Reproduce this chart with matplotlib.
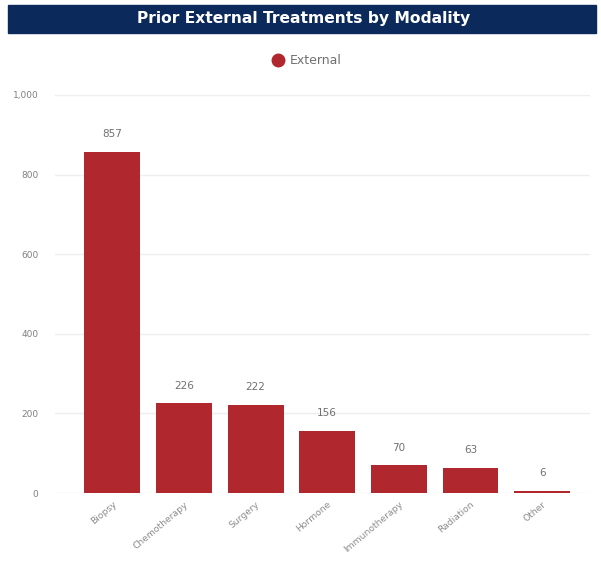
import matplotlib
matplotlib.use('Agg')
import matplotlib.pyplot as plt
from matplotlib.lines import Line2D
from matplotlib.patches import Rectangle

categories = ['Biopsy', 'Chemotherapy', 'Surgery', 'Hormone',
              'Immunotherapy', 'Radiation', 'Other']
external = [857, 226, 222, 156, 70, 63, 6]
yticks = [0, 200, 400, 600, 800, 1000]

bar_color = '#B0272D'
navy = '#0B2A5B'

fig = plt.figure(figsize=(6.01, 5.61), dpi=100)
ax = fig.add_axes([0.0915, 0.1212, 0.8905, 0.7095])

x = range(len(categories))
bars = ax.bar(x, external, width=0.78, color=bar_color, zorder=3)
for b, v in zip(bars, external):
    ax.annotate(str(v), (b.get_x() + b.get_width() / 2, v),
                xytext=(0, 9), textcoords='offset points',
                ha='center', va='bottom', fontsize=7.5, color='#707070')

ax.set_ylim(0, 1000)
ax.set_xlim(-0.8, 6.67)
ax.set_yticks(yticks)
ax.set_yticklabels([f'{t:,}' for t in yticks], fontsize=6.5, color='#808080')
ax.set_xticks(list(x))
ax.set_xticklabels(categories, rotation=40, ha='right', rotation_mode='anchor',
                   fontsize=6.6, color='#8c8c8c')
ax.tick_params(length=0, pad=12)
ax.tick_params(axis='x', pad=5)
ax.grid(axis='y', color='#eeeeee', linewidth=1, zorder=0)
for s in ax.spines.values():
    s.set_visible(False)

# title bar
fig.patches.append(Rectangle((8 / 601, 1 - 33 / 561), 588 / 601, 28 / 561,
                             transform=fig.transFigure, color=navy, zorder=0))
fig.text(0.505, 1 - 19 / 561, 'Prior External Treatments by Modality',
         ha='center', va='center', color='white', fontsize=11.2, fontweight='bold')

handle = Line2D([], [], marker='o', linestyle='', color=bar_color, markersize=9)
fig.legend([handle], ['External'], loc='center', bbox_to_anchor=(0.505, 1 - 61 / 561),
           frameon=False, fontsize=9, handletextpad=0.0, labelcolor='#707070')

fig.savefig('out.png', dpi=100)
